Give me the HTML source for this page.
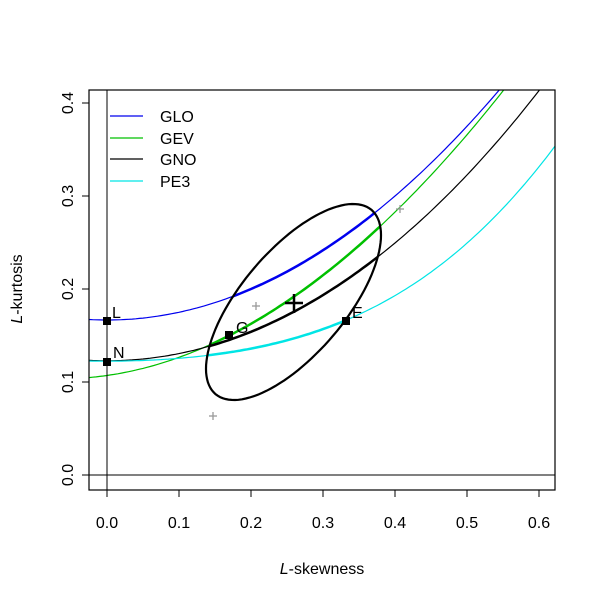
<!DOCTYPE html>
<html><head><meta charset="utf-8"><style>
body{margin:0;background:#fff}
svg{display:block;font-family:"Liberation Sans",Arial,sans-serif}
</style></head><body>
<svg id="s" width="602" height="602" xmlns="http://www.w3.org/2000/svg">
<defs>
<clipPath id="box"><rect x="89" y="90" width="466" height="400"/></clipPath>
<clipPath id="ell"><polygon id="ellc" points=""/></clipPath>
</defs>
<rect width="602" height="602" fill="#fff"/>
<g id="curves" clip-path="url(#box)" fill="none"></g>
<g id="thick" clip-path="url(#ell)" fill="none"></g>
<line x1="107" y1="90" x2="107" y2="490" stroke="#000" stroke-width="1"/>
<line x1="89" y1="475" x2="555" y2="475" stroke="#000" stroke-width="1"/>
<polygon id="ellp" points="" fill="none" stroke="#000" stroke-width="2.2"/>
<rect x="89" y="90" width="466" height="400" fill="none" stroke="#000" stroke-width="1.2"/>
<g stroke="#000" stroke-width="1">
<line x1="107" y1="490" x2="107" y2="497"/><line x1="179" y1="490" x2="179" y2="497"/><line x1="251" y1="490" x2="251" y2="497"/><line x1="323" y1="490" x2="323" y2="497"/><line x1="395" y1="490" x2="395" y2="497"/><line x1="467" y1="490" x2="467" y2="497"/><line x1="539" y1="490" x2="539" y2="497"/>
<line x1="82" y1="475" x2="89" y2="475"/><line x1="82" y1="382" x2="89" y2="382"/><line x1="82" y1="289" x2="89" y2="289"/><line x1="82" y1="196" x2="89" y2="196"/><line x1="82" y1="103" x2="89" y2="103"/>
</g>
<g font-size="16" text-anchor="middle" fill="#000">
<text x="107" y="528">0.0</text><text x="179" y="528">0.1</text><text x="251" y="528">0.2</text><text x="323" y="528">0.3</text><text x="395" y="528">0.4</text><text x="467" y="528">0.5</text><text x="539" y="528">0.6</text>
<text transform="translate(73,475) rotate(-90)">0.0</text>
<text transform="translate(73,382) rotate(-90)">0.1</text>
<text transform="translate(73,289) rotate(-90)">0.2</text>
<text transform="translate(73,196) rotate(-90)">0.3</text>
<text transform="translate(73,103) rotate(-90)">0.4</text>
<text x="322" y="574"><tspan font-style="italic">L</tspan>-skewness</text>
<text transform="translate(22,289) rotate(-90)"><tspan font-style="italic">L</tspan>-kurtosis</text>
</g>
<g stroke-width="1.2">
<line x1="110" y1="116" x2="143" y2="116" stroke="#0000ee"/>
<line x1="110" y1="138" x2="143" y2="138" stroke="#00c000"/>
<line x1="110" y1="159" x2="143" y2="159" stroke="#000"/>
<line x1="110" y1="181" x2="143" y2="181" stroke="#00e5e5"/>
</g>
<g font-size="16">
<text x="160" y="122">GLO</text><text x="160" y="144">GEV</text><text x="160" y="165">GNO</text><text x="160" y="187">PE3</text>
</g>
<g fill="#000">
<rect x="103" y="317" width="8" height="8"/><rect x="103" y="358" width="8" height="8"/>
<rect x="225" y="331" width="8" height="8"/><rect x="342" y="317" width="8" height="8"/>
</g>
<g font-size="16">
<text x="112" y="318">L</text><text x="113" y="358">N</text><text x="236" y="333">G</text><text x="352" y="318">E</text>
</g>
<g stroke="#999" stroke-width="1.3">
<line x1="252" y1="306" x2="260" y2="306"/><line x1="256" y1="302" x2="256" y2="310"/>
<line x1="209" y1="416" x2="217" y2="416"/><line x1="213" y1="412" x2="213" y2="420"/>
<line x1="396" y1="209" x2="404" y2="209"/><line x1="400" y1="205" x2="400" y2="213"/>
</g>
<g stroke="#000" stroke-width="2.5">
<line x1="285" y1="303" x2="303" y2="303"/><line x1="294" y1="294" x2="294" y2="313"/>
</g>
</svg>
<script>
var X=function(t){return 107+720*t},Y=function(k){return 475-930*k};
var f={
GLO:function(t){return (1+5*t*t)/6},
GEV:function(t){return 0.10701+0.11090*t+0.84838*t*t-0.06669*t*t*t+0.00567*Math.pow(t,4)-0.04208*Math.pow(t,5)+0.03763*Math.pow(t,6)},
GNO:function(t){return 0.12282+0.77518*t*t+0.12279*Math.pow(t,4)-0.13638*Math.pow(t,6)+0.11368*Math.pow(t,8)},
PE3:function(t){return 0.12240+0.30115*t*t+0.95812*Math.pow(t,4)-0.57488*Math.pow(t,6)+0.19383*Math.pow(t,8)}};
var col={GLO:"#0000ee",GEV:"#00c000",GNO:"#000",PE3:"#00e5e5"};
var ns="http://www.w3.org/2000/svg";
for(var k in f){var d="";for(var t=-0.03;t<=0.65;t+=0.005){d+=(d?"L":"M")+X(t).toFixed(1)+","+Y(f[k](t)).toFixed(1)}
[["curves",1.2],["thick",2.5]].forEach(function(g){var p=document.createElementNS(ns,"path");p.setAttribute("d",d);p.setAttribute("stroke",col[k]);p.setAttribute("stroke-width",g[1]);document.getElementById(g[0]).appendChild(p)})}
var pts="";var phi=43*Math.PI/180;for(var i=0;i<120;i++){var th=i/120*2*Math.PI;pts+=(293.5+87.5*Math.cos(th)).toFixed(1)+","+(302-98*Math.sin(th+phi)).toFixed(1)+" "}
document.getElementById("ellp").setAttribute("points",pts);document.getElementById("ellc").setAttribute("points",pts);
</script>
</body></html>
